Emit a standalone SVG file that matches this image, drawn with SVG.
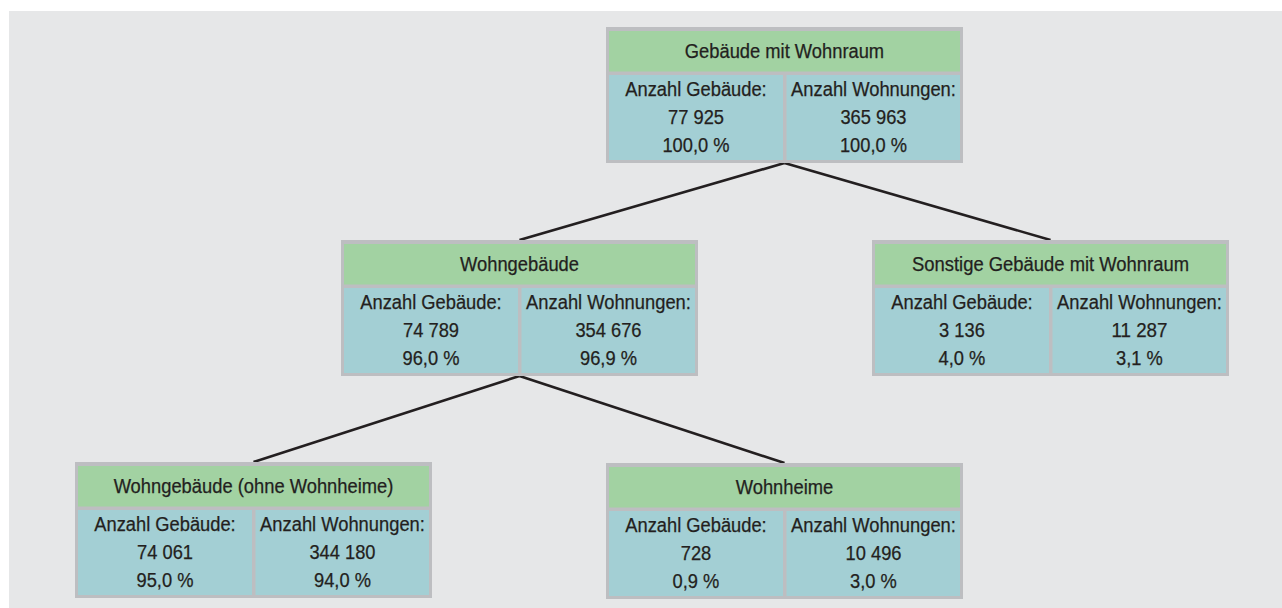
<svg xmlns="http://www.w3.org/2000/svg" width="1282" height="608" viewBox="0 0 1282 608">
<style>
.bg{fill:#e6e7e8}
.frame{fill:#bdbec1}
.hd{fill:#a2d2a2}
.cell{fill:#a3cfd4}
.conn{stroke:#231f20;stroke-width:2.6;fill:none;stroke-linecap:butt}
text{font-family:"Liberation Sans",Arial,sans-serif;font-size:19.5px;fill:#231f20;stroke:#231f20;stroke-width:0.25;text-anchor:middle}
</style>
<defs>
<g id="box">
<rect class="frame" x="0" y="0" width="357" height="136"/>
<rect class="hd" x="3" y="4" width="351" height="40.5"/>
<rect class="cell" x="3" y="48" width="174" height="85"/>
<rect class="cell" x="180.5" y="48" width="173.5" height="85"/>
</g>
</defs>
<rect class="bg" x="9" y="11" width="1273" height="597"/>
<g id="connectors">
<line class="conn" x1="784.5" y1="163" x2="519.5" y2="240"/>
<line class="conn" x1="784.5" y1="163" x2="1050.5" y2="240"/>
<line class="conn" x1="519.5" y1="376" x2="253.5" y2="462"/>
<line class="conn" x1="519.5" y1="376" x2="784.5" y2="463"/>
</g>
<g id="node-gebaeude-mit-wohnraum" transform="translate(606,27)">
<use href="#box"/>
<text x="178.5" y="30.5" textLength="199.3" lengthAdjust="spacingAndGlyphs">Gebäude mit Wohnraum</text>
<text x="90" y="69" textLength="141.4" lengthAdjust="spacingAndGlyphs">Anzahl Gebäude:</text>
<text x="90" y="97" textLength="56" lengthAdjust="spacingAndGlyphs">77 925</text>
<text x="90" y="124.5" textLength="67.1" lengthAdjust="spacingAndGlyphs">100,0 %</text>
<text x="267.5" y="69" textLength="164.8" lengthAdjust="spacingAndGlyphs">Anzahl Wohnungen:</text>
<text x="267.5" y="97" textLength="66.1" lengthAdjust="spacingAndGlyphs">365 963</text>
<text x="267.5" y="124.5" textLength="67.1" lengthAdjust="spacingAndGlyphs">100,0 %</text>
</g>
<g id="node-wohngebaeude" transform="translate(341,240)">
<use href="#box"/>
<text x="178.5" y="30.5" textLength="119" lengthAdjust="spacingAndGlyphs">Wohngebäude</text>
<text x="90" y="69" textLength="141.4" lengthAdjust="spacingAndGlyphs">Anzahl Gebäude:</text>
<text x="90" y="97" textLength="56" lengthAdjust="spacingAndGlyphs">74 789</text>
<text x="90" y="124.5" textLength="57" lengthAdjust="spacingAndGlyphs">96,0 %</text>
<text x="267.5" y="69" textLength="164.8" lengthAdjust="spacingAndGlyphs">Anzahl Wohnungen:</text>
<text x="267.5" y="97" textLength="66.1" lengthAdjust="spacingAndGlyphs">354 676</text>
<text x="267.5" y="124.5" textLength="57" lengthAdjust="spacingAndGlyphs">96,9 %</text>
</g>
<g id="node-sonstige" transform="translate(872,240)">
<use href="#box"/>
<text x="178.5" y="30.5" textLength="277" lengthAdjust="spacingAndGlyphs">Sonstige Gebäude mit Wohnraum</text>
<text x="90" y="69" textLength="141.4" lengthAdjust="spacingAndGlyphs">Anzahl Gebäude:</text>
<text x="90" y="97" textLength="45.8" lengthAdjust="spacingAndGlyphs">3 136</text>
<text x="90" y="124.5" textLength="46.8" lengthAdjust="spacingAndGlyphs">4,0 %</text>
<text x="267.5" y="69" textLength="164.8" lengthAdjust="spacingAndGlyphs">Anzahl Wohnungen:</text>
<text x="267.5" y="97" textLength="56" lengthAdjust="spacingAndGlyphs">11 287</text>
<text x="267.5" y="124.5" textLength="46.8" lengthAdjust="spacingAndGlyphs">3,1 %</text>
</g>
<g id="node-ohne-wohnheime" transform="translate(75,462)">
<use href="#box"/>
<text x="178.5" y="30.5" textLength="279.7" lengthAdjust="spacingAndGlyphs">Wohngebäude (ohne Wohnheime)</text>
<text x="90" y="69" textLength="141.4" lengthAdjust="spacingAndGlyphs">Anzahl Gebäude:</text>
<text x="90" y="97" textLength="56" lengthAdjust="spacingAndGlyphs">74 061</text>
<text x="90" y="124.5" textLength="57" lengthAdjust="spacingAndGlyphs">95,0 %</text>
<text x="267.5" y="69" textLength="164.8" lengthAdjust="spacingAndGlyphs">Anzahl Wohnungen:</text>
<text x="267.5" y="97" textLength="66.1" lengthAdjust="spacingAndGlyphs">344 180</text>
<text x="267.5" y="124.5" textLength="57" lengthAdjust="spacingAndGlyphs">94,0 %</text>
</g>
<g id="node-wohnheime" transform="translate(606,463)">
<use href="#box"/>
<text x="178.5" y="30.5" textLength="97.6" lengthAdjust="spacingAndGlyphs">Wohnheime</text>
<text x="90" y="69" textLength="141.4" lengthAdjust="spacingAndGlyphs">Anzahl Gebäude:</text>
<text x="90" y="97" textLength="30.5" lengthAdjust="spacingAndGlyphs">728</text>
<text x="90" y="124.5" textLength="46.8" lengthAdjust="spacingAndGlyphs">0,9 %</text>
<text x="267.5" y="69" textLength="164.8" lengthAdjust="spacingAndGlyphs">Anzahl Wohnungen:</text>
<text x="267.5" y="97" textLength="56" lengthAdjust="spacingAndGlyphs">10 496</text>
<text x="267.5" y="124.5" textLength="46.8" lengthAdjust="spacingAndGlyphs">3,0 %</text>
</g>
</svg>
